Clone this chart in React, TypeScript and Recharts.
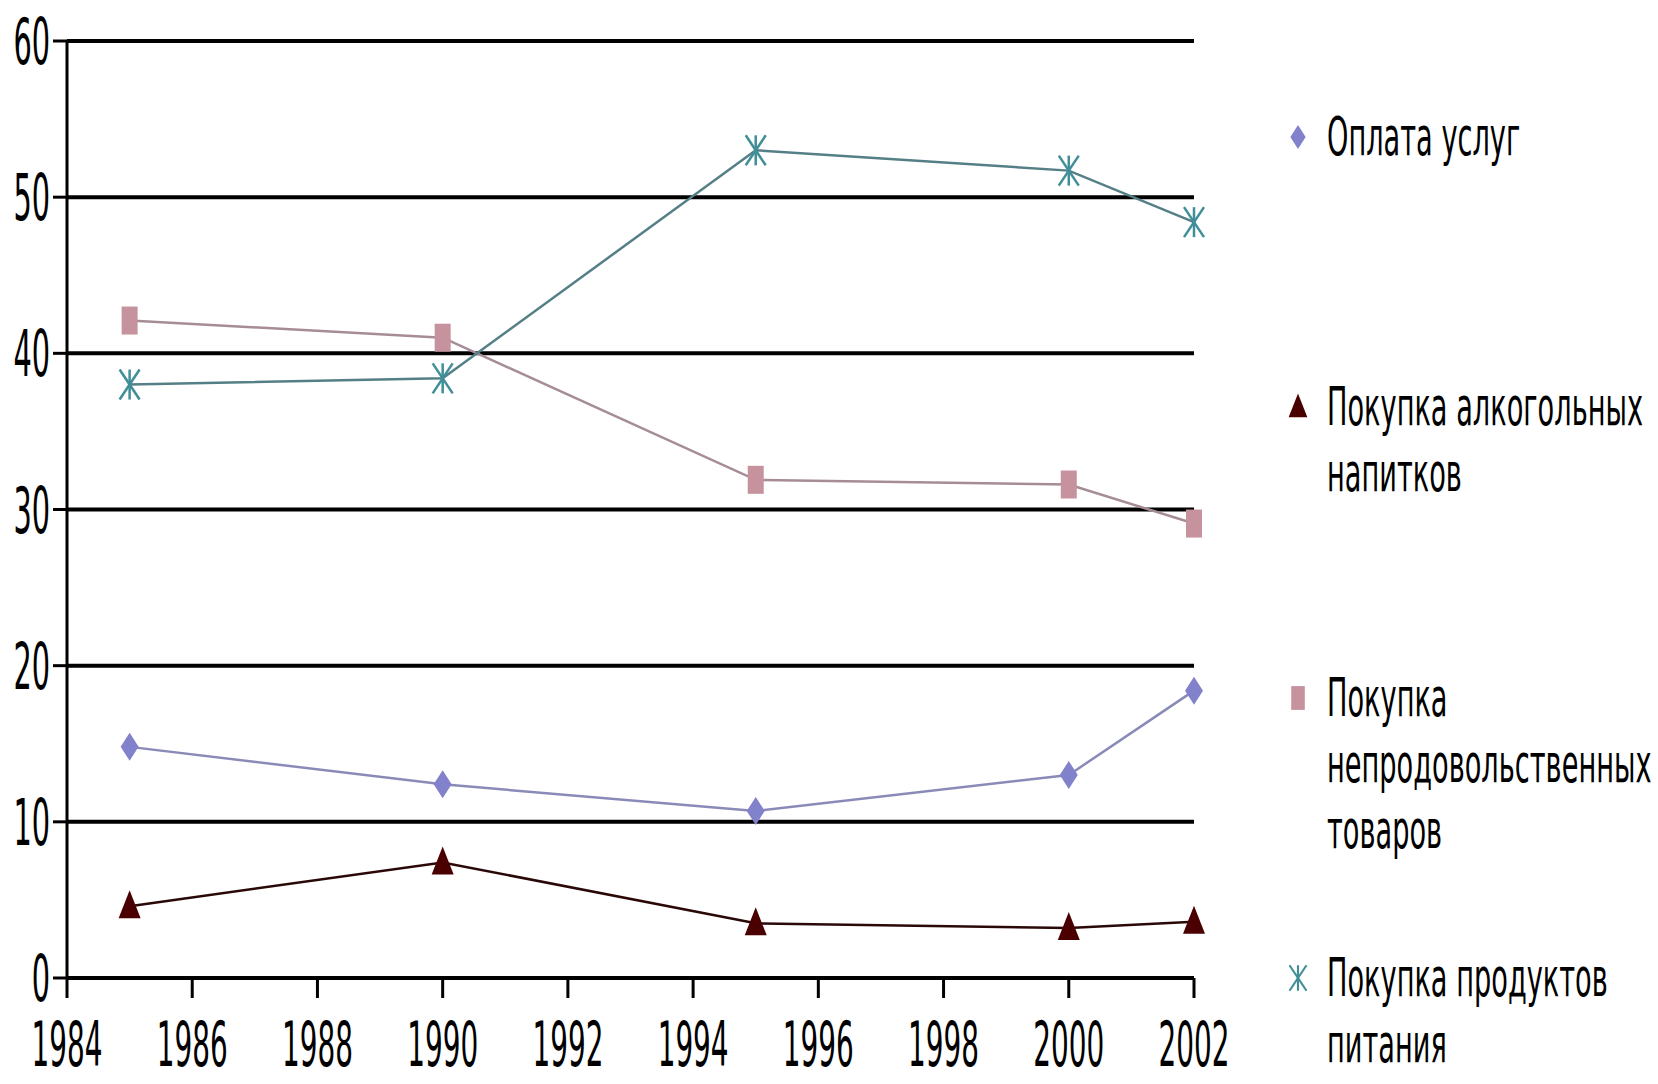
import { LineChart, Line, XAxis, YAxis, CartesianGrid } from 'recharts';

const years = [1985, 1990, 1995, 2000, 2002];
const services = [14.8, 12.4, 10.7, 13.0, 18.4];
const alcohol = [4.6, 7.4, 3.5, 3.2, 3.6];
const nonFood = [42.1, 41.0, 31.9, 31.6, 29.1];
const food = [38.0, 38.4, 53.0, 51.7, 48.4];

const xTicks = [1984, 1986, 1988, 1990, 1992, 1994, 1996, 1998, 2000, 2002];
const yTicks = [0, 10, 20, 30, 40, 50, 60];

const seriesNames = [
  'Оплата услуг',
  'Покупка алкогольных напитков',
  'Покупка непродовольственных товаров',
  'Покупка продуктов питания',
];
const legendLines = [
  ['Оплата услуг'],
  ['Покупка алкогольных', 'напитков'],
  ['Покупка', 'непродовольственных', 'товаров'],
  ['Покупка продуктов', 'питания'],
];

const data = years.map((year, i) => ({
  year,
  services: services[i],
  alcohol: alcohol[i],
  nonFood: nonFood[i],
  food: food[i],
}));

const FONT = '"DejaVu Sans Condensed", "DejaVu Sans", sans-serif';

const COLORS = {
  services: '#8282cc',
  alcohol: '#4a0000',
  nonFood: '#c6929e',
  food: '#3f8e98',
};
const LINE_COLORS = {
  services: '#8a8ab8',
  alcohol: '#2a0808',
  nonFood: '#a58c96',
  food: '#557f86',
};

// marker shapes (centred at 0,0)
const Diamond = ({ color }: { color: string }) => (
  <polygon points="0,-14 9,0 0,14 -9,0" fill={color} />
);
const Triangle = ({ color }: { color: string }) => (
  <polygon points="0,-16 11,12 -11,12" fill={color} />
);
const Square = ({ color }: { color: string }) => (
  <rect x={-8} y={-14} width={16} height={28} fill={color} />
);
const Asterisk = ({ color }: { color: string }) => (
  <g stroke={color} strokeWidth={2.5}>
    <line x1={-10} y1={-15} x2={10} y2={15} />
    <line x1={10} y1={-15} x2={-10} y2={15} />
    <line x1={0} y1={-15} x2={0} y2={15} />
  </g>
);

const markers = [Diamond, Triangle, Square, Asterisk];
const markerColors = [COLORS.services, COLORS.alcohol, COLORS.nonFood, COLORS.food];

const makeDot = (Shape: any, color: string) => (props: any) => {
  const { cx, cy, index } = props;
  if (cx == null || cy == null) return <g key={index} />;
  return (
    <g key={index} transform={`translate(${cx},${cy})`}>
      <Shape color={color} />
    </g>
  );
};

const XTick = ({ x, y, payload }: any) => (
  <g transform={`translate(${x},${y})`}>
    <text transform="scale(0.5,1)" textAnchor="middle" dy={58} fontSize={62} fontFamily={FONT} fill="#000">
      {payload.value}
    </text>
  </g>
);

const YTick = ({ x, y, payload }: any) => (
  <g transform={`translate(${x},${y})`}>
    <text transform="scale(0.5,1)" textAnchor="end" dy={23} fontSize={64} fontFamily={FONT} fill="#000">
      {payload.value}
    </text>
  </g>
);

// first-line centre of each legend entry
const legendTops = [137, 407, 698, 978];

export default function App() {
  return (
    <div style={{ position: 'absolute', left: 0, top: 0, width: 1658, height: 1084, background: '#fff', overflow: 'hidden' }}>
      <LineChart
        width={1658}
        height={1084}
        data={data}
        margin={{ top: 41, right: 464, left: 0, bottom: 6 }}
      >
        <CartesianGrid vertical={false} stroke="#000" strokeWidth={4} />
        <XAxis
          dataKey="year"
          type="number"
          domain={[1984, 2002]}
          ticks={xTicks}
          interval={0}
          height={100}
          tickSize={20}
          tickMargin={10}
          stroke="#000"
          strokeWidth={3}
          tick={<XTick />}
        />
        <YAxis
          domain={[0, 60]}
          ticks={yTicks}
          interval={0}
          width={67}
          tickSize={14}
          tickMargin={3}
          stroke="#000"
          strokeWidth={3}
          tick={<YTick />}
        />
        <Line
          dataKey="services"
          name={seriesNames[0]}
          stroke={LINE_COLORS.services}
          strokeWidth={2.5}
          dot={makeDot(Diamond, COLORS.services)}
          isAnimationActive={false}
        />
        <Line
          dataKey="alcohol"
          name={seriesNames[1]}
          stroke={LINE_COLORS.alcohol}
          strokeWidth={2.5}
          dot={makeDot(Triangle, COLORS.alcohol)}
          isAnimationActive={false}
        />
        <Line
          dataKey="nonFood"
          name={seriesNames[2]}
          stroke={LINE_COLORS.nonFood}
          strokeWidth={2.5}
          dot={makeDot(Square, COLORS.nonFood)}
          isAnimationActive={false}
        />
        <Line
          dataKey="food"
          name={seriesNames[3]}
          stroke={LINE_COLORS.food}
          strokeWidth={2.5}
          dot={makeDot(Asterisk, COLORS.food)}
          isAnimationActive={false}
        />
      </LineChart>

      {/* legend, to the right of the plot */}
      {legendLines.map((lines, i) => {
        const Shape = markers[i];
        return (
          <div key={i} style={{ position: 'absolute', left: 1284, top: legendTops[i] - 33 }}>
            <svg width={30} height={66} style={{ position: 'absolute', left: 0, top: 0 }}>
              <g transform="translate(14,33) scale(0.85)">
                <Shape color={markerColors[i]} />
              </g>
            </svg>
            <div style={{ position: 'absolute', left: 43, top: 0 }}>
              {lines.map((ln, j) => (
                <div
                  key={j}
                  style={{
                    height: 66,
                    lineHeight: '66px',
                    fontFamily: FONT,
                    fontSize: 54,
                    whiteSpace: 'nowrap',
                    transform: 'scaleX(0.56)',
                    transformOrigin: 'left center',
                    color: '#000',
                  }}
                >
                  {ln}
                </div>
              ))}
            </div>
          </div>
        );
      })}
    </div>
  );
}
